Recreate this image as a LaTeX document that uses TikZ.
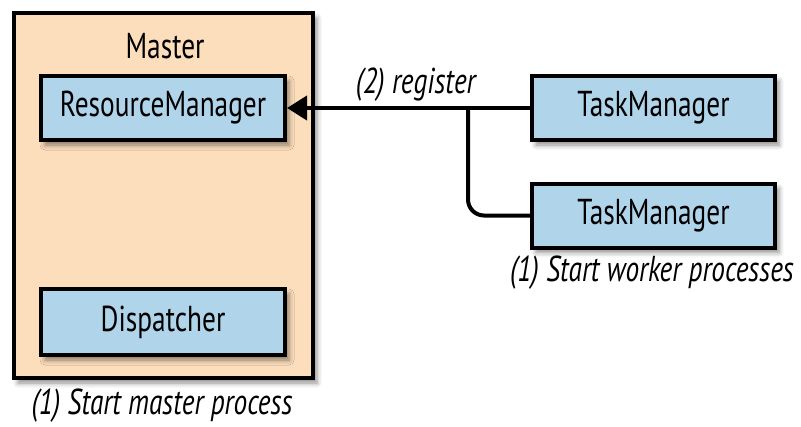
\documentclass[tikz,border=0pt]{standalone}
\usepackage{fontspec}
\setmainfont{PT Sans}[FakeStretch=0.76]
\usepackage{tikz}
\usetikzlibrary{arrows.meta}
\usetikzlibrary{shadows.blur}
\newcommand\diagfont[0]{\fontsize{36}{42}\selectfont}
\definecolor{masterfill}{RGB}{252,222,188}
\definecolor{boxfill}{RGB}{176,212,234}
\tikzset{
  boxshadow/.style={blur shadow={shadow xshift=4pt, shadow yshift=-5pt, shadow blur radius=5pt, shadow opacity=45}},
  masterbox/.style={draw, line width=4pt, fill=masterfill, boxshadow, minimum width=299pt, minimum height=365pt, inner sep=0pt},
  compbox/.style={draw, line width=4pt, fill=boxfill, boxshadow, minimum width=244pt, minimum height=64pt, inner sep=0pt},
  caption/.style={inner sep=0pt, font=\diagfont\itshape}
}

\begin{document}
\begin{tikzpicture}[x=1pt, y=-1pt, font=\diagfont]

\useasboundingbox (0,0) rectangle (801,426);

\node[masterbox] (master) at (163.5,195.5) {};
\node[inner sep=0pt] (masterlabel) at (165,46) {Master};
\node[compbox] (rm) at (163,108) {ResourceManager};
\node[compbox, minimum height=66pt] (disp) at (163,322) {Dispatcher};
\node[caption] (mastercap) at (162,406) {(1) Start master process};

\node[compbox, minimum width=243pt] (tm1) at (653.5,108) {TaskManager};
\node[compbox, minimum width=243pt] (tm2) at (653.5,215.5) {TaskManager};
\node[caption] (workercap) at (652,273) {(1) Start worker processes};

\coordinate (branch) at (468,108);
\draw[line width=4pt, -{Triangle[length=20pt, width=24pt]}] (tm1.west) -- (rm.east) node[caption, pos=0.47, yshift=23pt] (reglabel) {(2) register};
\draw[line width=4pt, rounded corners=16pt] (branch) |- (tm2.west);

\end{tikzpicture}
\end{document}
